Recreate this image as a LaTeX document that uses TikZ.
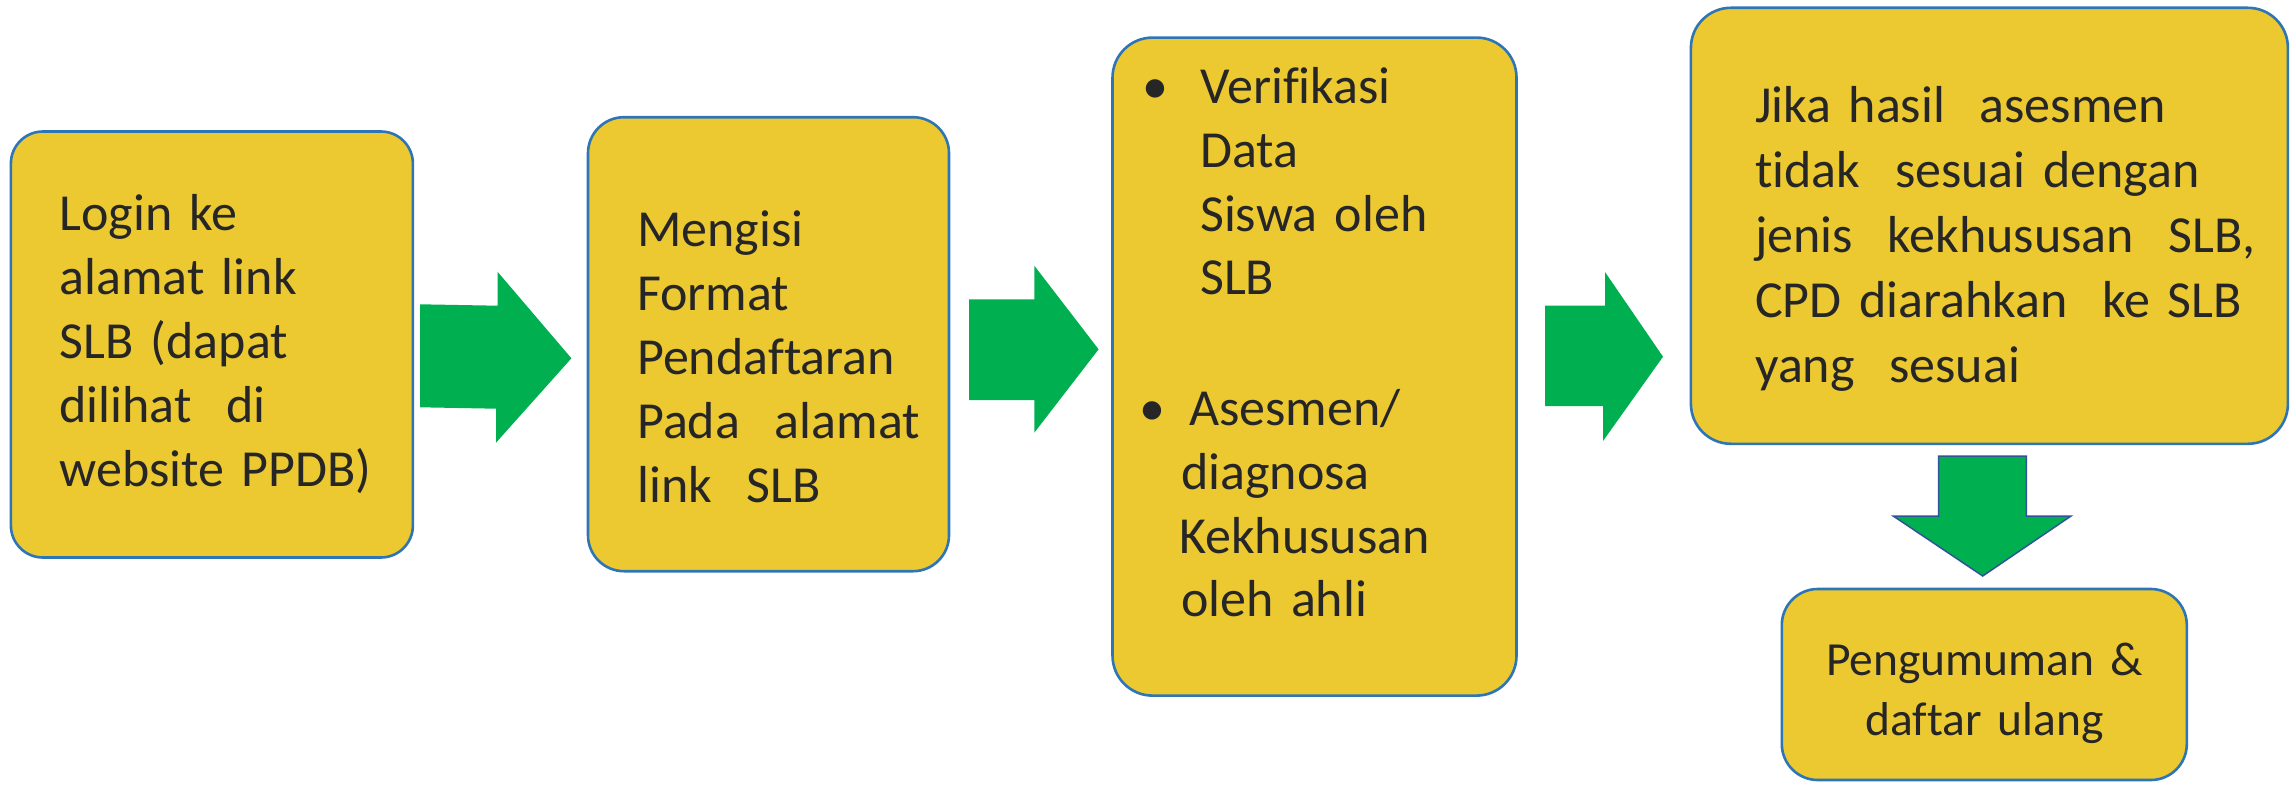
\documentclass[tikz,border=0pt]{standalone}
\usepackage{fontspec}
\setmainfont{Carlito}[Ligatures={NoCommon}]
\definecolor{boxfill}{HTML}{ECC931}
\definecolor{boxline}{HTML}{2E75B6}
\definecolor{arrowgreen}{HTML}{00B050}
\definecolor{arrowline}{HTML}{2F5597}
\definecolor{ink}{HTML}{262626}
\tikzset{
  box/.style={draw=boxline, fill=boxfill, line width=2.6pt, rounded corners=36pt, inner sep=0pt},
  txt/.style={anchor=base west, inner sep=0pt, text width=640pt, align=left, text=ink,
    font=\fontsize{52}{64}\selectfont},
  blockarrow/.style={fill=arrowgreen},
}
\newcommand{\blt}[1]{\llap{\makebox[0pt][c]{\textbullet}\hspace{#1}}}
\begin{document}
\begin{tikzpicture}[x=1pt,y=-1pt]
\useasboundingbox (0,0) rectangle (2290,784);
% boxes
\node[box, minimum width=402pt, minimum height=426pt, rounded corners=32pt] (b1) at (211.9,344.5) {};
\node[box, minimum width=361pt, minimum height=454pt] (b2) at (768.5,344.2) {};
\node[box, minimum width=404pt, minimum height=658pt, rounded corners=40pt] (b3) at (1314.5,366.6) {};
\node[box, minimum width=597pt, minimum height=436pt, rounded corners=40pt] (b4) at (1989.4,225.8) {};
\node[box, minimum width=405pt, minimum height=191pt] (b5) at (1984.3,684.5) {};
% texts
\node[txt] (t1) at (59.3,230) {Login ke\\alamat link\\SLB (dapat\\dilihat\ \ di\\website PPDB)};
\node[txt] (t2) at (637,246.7) {Mengisi\\Format\\Pendaftaran\\Pada\ \ alamat\\link\ \ SLB};
\node[txt, font=\fontsize{52}{63.7}\selectfont] (t3) at (1200,103.7) {\blt{45pt}Verifikasi\\Data\\Siswa oleh\\SLB\\[67.3pt]
\hspace*{-11pt}\blt{36.3pt}Asesmen/\\\hspace*{-19pt}diagnosa\\\hspace*{-21pt}Kekhususan\\\hspace*{-19pt}oleh ahli};
\node[txt, font=\fontsize{52}{65}\selectfont] (t4) at (1755,122.5) {Jika hasil\ \ asesmen\\tidak\ \ sesuai dengan\\jenis\ \ kekhususan\ \ SLB,\\CPD diarahkan\ \ ke SLB\\yang\ \ sesuai};
\node[txt, anchor=base, text width=400pt, align=center, font=\fontsize{47.5}{60}\selectfont] (t5) at (1984.3,675) {Pengumuman \&\\daftar ulang};
% block arrows
\fill[blockarrow] (420.2,304.3) -- (497.5,305.7) -- (497.5,271.7) -- (571.4,358.3) -- (496,442.7) -- (496,408.7) -- (420.2,407.3) -- cycle;
\fill[blockarrow] (969,299.3) -- (1034.3,299.3) -- (1034.3,265.7) -- (1098.6,349.3) -- (1034.3,432.7) -- (1034.3,400) -- (969,400) -- cycle;
\fill[blockarrow] (1545,305.7) -- (1605,305.7) -- (1605,272) -- (1663,356.7) -- (1603,441) -- (1603,406) -- (1545,406) -- cycle;
\filldraw[blockarrow, draw=arrowline, line width=1.5pt, line join=miter] (1938.7,456) -- (2026.3,456) -- (2026.3,516) -- (2071,516) -- (1982.7,576) -- (1893.2,516) -- (1938.7,516) -- cycle;
\end{tikzpicture}
\end{document}
